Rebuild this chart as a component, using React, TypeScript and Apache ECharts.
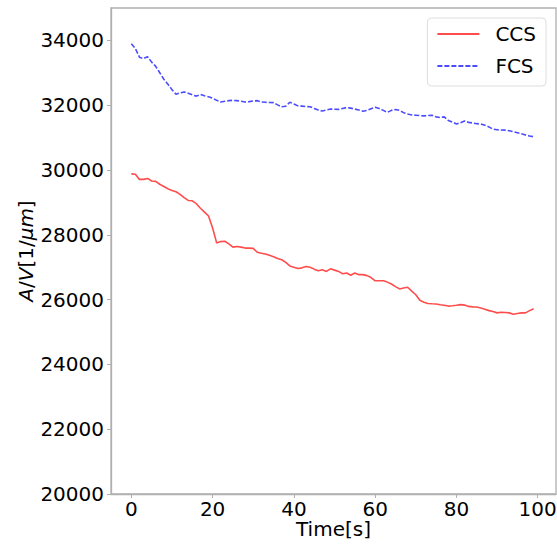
import React, { useEffect, useRef } from "react";
import * as echarts from "echarts";

const times: number[] = Array.from({ length: 100 }, (_, i) => i);

const ccs: number[] = [
  29880, 29870, 29710, 29710, 29740, 29660, 29650, 29560, 29490, 29420,
  29370, 29330, 29250, 29150, 29060, 29050, 28960, 28820, 28700, 28580,
  28210, 27750, 27790, 27800, 27720, 27620, 27640, 27620, 27590, 27590,
  27580, 27460, 27430, 27410, 27370, 27320, 27270, 27230, 27150, 27040,
  27000, 26960, 26980, 27020, 27000, 26940, 26890, 26920, 26870, 26950,
  26910, 26870, 26800, 26820, 26750, 26820, 26770, 26770, 26740, 26680,
  26580, 26580, 26580, 26540, 26480, 26400, 26330, 26360, 26380, 26260,
  26150, 25980, 25920, 25880, 25870, 25865, 25840, 25825, 25800, 25810,
  25825, 25845, 25830, 25790, 25775, 25770, 25740, 25700, 25660, 25630,
  25590, 25610, 25600, 25590, 25550, 25570, 25590, 25590, 25660, 25720,
];

const fcs: number[] = [
  33900, 33750, 33480, 33440, 33500, 33330, 33200, 33000, 32800, 32650,
  32480, 32340, 32380, 32410, 32370, 32320, 32280, 32330, 32290, 32260,
  32220, 32150, 32100, 32120, 32140, 32150, 32140, 32120, 32100, 32110,
  32130, 32140, 32100, 32090, 32085, 32080, 32010, 31950, 31970, 32090,
  32040, 31980, 31970, 31960, 31950, 31900, 31850, 31820, 31850, 31880,
  31875, 31870, 31900, 31930, 31910, 31880, 31850, 31815, 31840, 31890,
  31940, 31900, 31840, 31780, 31840, 31870, 31840, 31770, 31730, 31700,
  31690, 31680, 31670, 31680, 31690, 31640, 31620, 31640, 31530, 31480,
  31420, 31460, 31510, 31470, 31450, 31430, 31420, 31380, 31330, 31260,
  31240, 31235, 31230, 31210, 31180, 31150, 31120, 31080, 31050, 31025,
];

const xTicks: number[] = [0, 20, 40, 60, 80, 100];
const yTicks: number[] = [20000, 22000, 24000, 26000, 28000, 30000, 32000, 34000];

const FONT = "DejaVu Sans";
const SPINE = "#b0b0b0";

export default function App() {
  const ref = useRef<HTMLDivElement>(null);
  useEffect(() => {
    if (!ref.current) return;
    const chart = echarts.init(ref.current, undefined, { renderer: "svg" });
    chart.setOption({
      animation: false,
      backgroundColor: "#ffffff",
      textStyle: { fontFamily: FONT },
      grid: {
        left: 111,
        top: 8,
        right: 1,
        bottom: 50,
        outerBoundsMode: "none",
        containLabel: false,
        show: true,
        borderColor: SPINE,
        borderWidth: 1.3,
        backgroundColor: "transparent",
      },
      legend: {
        orient: "vertical",
        right: 11,
        top: 18,
        itemWidth: 42,
        itemHeight: 14,
        itemGap: 8,
        padding: [4, 10, 8, 9],
        borderColor: "#dddddd",
        borderWidth: 1,
        borderRadius: 4,
        backgroundColor: "#ffffff",
        itemStyle: { opacity: 0 },
        textStyle: {
          fontFamily: FONT,
          fontSize: 20,
          color: "#000000",
          lineHeight: 24,
          padding: [0, 0, 0, 11],
        },
        data: ["CCS", "FCS"],
      },
      xAxis: {
        type: "value",
        min: -5,
        max: 104.5,
        name: "Time[s]",
        nameLocation: "middle",
        nameGap: 25,
        nameMoveOverlap: false,
        nameTextStyle: { fontFamily: FONT, fontSize: 20, color: "#000000" },
        splitLine: { show: false },
        axisLine: { show: true, onZero: false, lineStyle: { color: SPINE, width: 1.3 } },
        axisTick: {
          show: true,
          inside: false,
          length: 4,
          customValues: xTicks,
          lineStyle: { color: SPINE },
        },
        axisLabel: {
          customValues: xTicks,
          formatter: (v: number) => String(v),
          fontFamily: FONT,
          fontSize: 20,
          color: "#000000",
          margin: 5,
        },
      },
      yAxis: {
        type: "value",
        min: 20000,
        max: 35000,
        name: "{i|A}/{i|V}[1/{i|μm}]",
        nameLocation: "middle",
        nameGap: 75,
        nameMoveOverlap: false,
        nameRotate: 90,
        nameTextStyle: {
          fontFamily: FONT,
          fontSize: 20,
          color: "#000000",
          rich: {
            i: { fontFamily: FONT, fontSize: 20, fontStyle: "italic", color: "#000000" },
          },
        },
        splitLine: { show: false },
        axisLine: { show: true, onZero: false, lineStyle: { color: SPINE, width: 1.3 } },
        axisTick: {
          show: true,
          inside: false,
          length: 4,
          customValues: yTicks,
          lineStyle: { color: SPINE },
        },
        axisLabel: {
          customValues: yTicks,
          formatter: (v: number) => String(v),
          fontFamily: FONT,
          fontSize: 20,
          color: "#000000",
          margin: 7,
        },
      },
      series: [
        {
          name: "CCS",
          type: "line",
          data: times.map((t, i) => [t, ccs[i]]),
          symbol: "none",
          lineStyle: { color: "rgba(255,0,0,0.7)", width: 1.6, type: "solid" },
          itemStyle: { color: "rgba(255,0,0,0.7)" },
        },
        {
          name: "FCS",
          type: "line",
          data: times.map((t, i) => [t, fcs[i]]),
          symbol: "none",
          lineStyle: { color: "rgba(0,0,255,0.7)", width: 1.6, type: [5, 2] },
          itemStyle: { color: "rgba(0,0,255,0.7)" },
        },
      ],
    });
    return () => chart.dispose();
  }, []);
  return (
    <div
      ref={ref}
      style={{ position: "fixed", left: 0, top: 0, width: 557, height: 544 }}
    />
  );
}
